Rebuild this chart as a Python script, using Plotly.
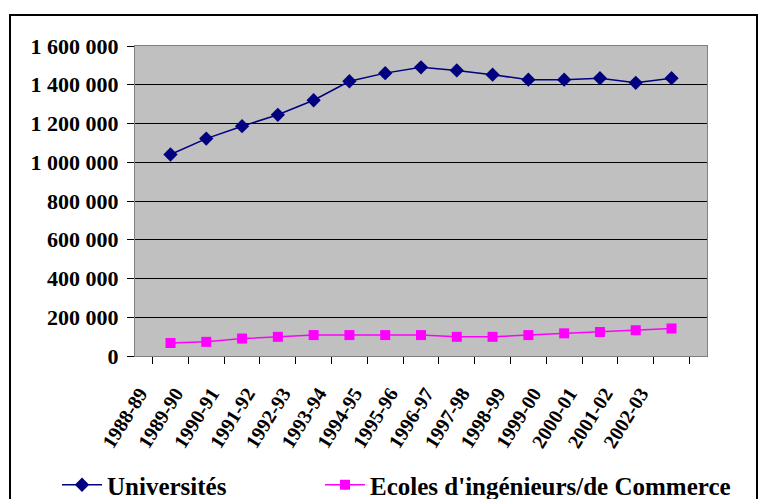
import plotly.graph_objects as go

# Academic years
years = ["1988-89", "1989-90", "1990-91", "1991-92", "1992-93", "1993-94",
         "1994-95", "1995-96", "1996-97", "1997-98", "1998-99", "1999-00",
         "2000-01", "2001-02", "2002-03"]

# Enrolment counts
universites = [1040000, 1122000, 1186000, 1245000, 1320000, 1418000, 1460000,
               1490000, 1474000, 1452000, 1426000, 1426000, 1434000, 1410000,
               1434000]
ecoles = [67000, 73000, 90000, 99000, 108000, 108000, 108000, 108000,
          99000, 99000, 108000, 117000, 124000, 133000, 142000]

# Value axis ticks
y_ticks = [0, 200000, 400000, 600000, 800000, 1000000, 1200000, 1400000, 1600000]

W, H = 760, 499
L, R, T, B = 135, 53, 46, 143
pw, ph = W - L - R, H - T - B

def px(x):
    return (x - L) / pw

def py(y):
    return (H - B - y) / ph

def bold(s):
    return "<b>" + s + "</b>"

# trailing non-breaking spaces push the slanted year labels away from the axis
pad = "\u00a0" * 4

serif = "Liberation Serif"
legend_font = dict(family=serif, size=25, color="black")

fig = go.Figure()
fig.add_trace(go.Scatter(
    x=years, y=universites, name=bold("Universités"), mode="lines+markers",
    line=dict(color="#000080", width=1.5),
    marker=dict(symbol="diamond", size=11, color="#000080"),
    legend="legend",
))
fig.add_trace(go.Scatter(
    x=years, y=ecoles, name=bold("Ecoles d'ingénieurs/de Commerce"),
    mode="lines+markers",
    line=dict(color="#FF00FF", width=1.5),
    marker=dict(symbol="square", size=10, color="#FF00FF"),
    legend="legend2",
))

fig.update_layout(
    width=W, height=H,
    margin=dict(l=L, r=R, t=T, b=B, autoexpand=False),
    paper_bgcolor="white",
    plot_bgcolor="#C0C0C0",
    font=dict(family=serif),
    showlegend=True,
    legend=dict(
        x=px(57), y=py(485), xanchor="left", yanchor="middle",
        font=legend_font, itemwidth=40, bgcolor="rgba(0,0,0,0)",
    ),
    legend2=dict(
        x=px(320), y=py(485), xanchor="left", yanchor="middle",
        font=legend_font, itemwidth=40, bgcolor="rgba(0,0,0,0)",
    ),
    xaxis=dict(
        type="category", tickson="boundaries", ticks="outside", ticklen=7,
        tickcolor="black", tickangle=-58, showgrid=False, automargin=False,
        tickvals=years, ticktext=[bold(y + pad) for y in years],
        showline=True, linecolor="#808080", linewidth=1, mirror=True,
        tickfont=dict(family=serif, size=20, color="black"),
        ticklabelstandoff=0, ticklabelshift=-20,
    ),
    yaxis=dict(
        range=[0, 1600000], automargin=False,
        tickvals=y_ticks,
        ticktext=[bold(f"{v:,}".replace(",", " ")) for v in y_ticks],
        ticks="outside", ticklen=7, tickcolor="black",
        showgrid=True, gridcolor="black", gridwidth=1, zeroline=False,
        showline=True, linecolor="#808080", linewidth=1, mirror=True,
        tickfont=dict(family=serif, size=22, color="black"),
        ticklabelstandoff=4,
    ),
    shapes=[dict(
        type="rect", xref="paper", yref="paper",
        x0=px(10), x1=px(757), y0=py(520), y1=py(15),
        line=dict(color="black", width=2), fillcolor="rgba(0,0,0,0)",
        layer="above",
    )],
)

fig.write_html("out.html")
